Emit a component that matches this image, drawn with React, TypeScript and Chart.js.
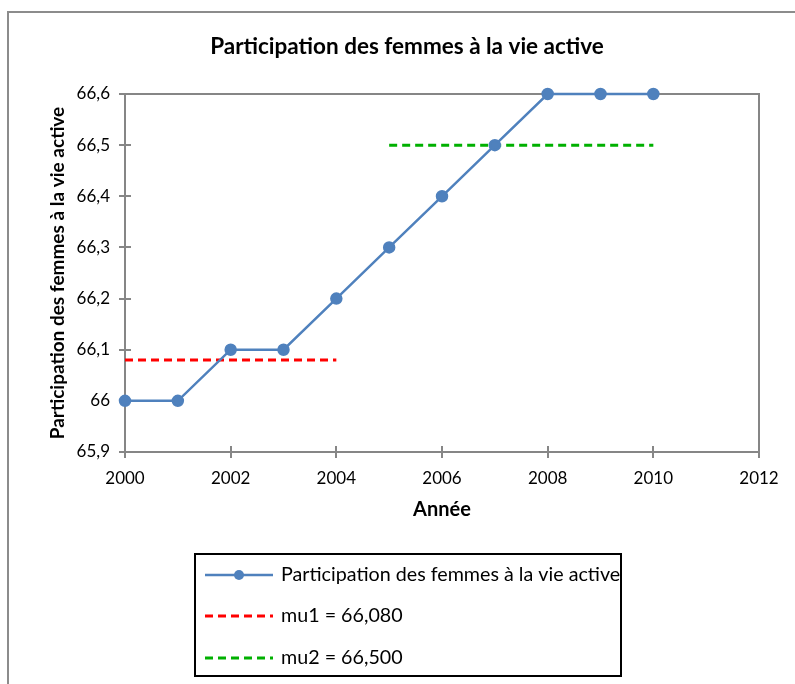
import { useEffect, useRef } from "react";
import { Chart, registerables } from "chart.js";

Chart.register(...registerables);

// ---- data ----
const years = [2000, 2001, 2002, 2003, 2004, 2005, 2006, 2007, 2008, 2009, 2010];
const participation = [66.0, 66.0, 66.1, 66.1, 66.2, 66.3, 66.4, 66.5, 66.6, 66.6, 66.6];
const mu1Years = [2000, 2004];
const mu1Value = 66.08;
const mu2Years = [2005, 2010];
const mu2Value = 66.5;
const xMin = 2000;
const xMax = 2012;
const xStep = 2;
const yMin = 65.9;
const yMax = 66.6;
const yStep = 0.1;
const chartTitle = "Participation des femmes à la vie active";
const xTitle = "Année";
const yTitle = "Participation des femmes à la vie active";
const seriesLabels = ["Participation des femmes à la vie active", "mu1 = 66,080", "mu2 = 66,500"];

const FONT = "Lato, 'Open Sans', sans-serif";
const BLUE = "#4F81BD";
const RED = "#FF0000";
const GREEN = "#00B000";
const AXIS = "#868686";

const decorPlugin = {
  id: "decor",
  beforeDraw(chart: any) {
    const ctx = chart.ctx;
    ctx.save();
    ctx.strokeStyle = "#8c8c8c";
    ctx.lineWidth = 2;
    ctx.beginPath();
    ctx.moveTo(8, chart.height);
    ctx.lineTo(8, 12);
    ctx.lineTo(chart.width, 12);
    ctx.stroke();
    ctx.restore();
  },
  beforeDatasetsDraw(chart: any) {
    const ctx = chart.ctx;
    const a = chart.chartArea;
    ctx.save();
    ctx.strokeStyle = AXIS;
    ctx.lineWidth = 2;
    ctx.strokeRect(a.left, a.top, a.right - a.left, a.bottom - a.top);
    // crossing tick marks
    const xs = chart.scales.x;
    const ys = chart.scales.y;
    ctx.beginPath();
    xs.ticks.forEach((t: any) => {
      const px = Math.round(xs.getPixelForValue(t.value));
      ctx.moveTo(px, a.bottom - 6);
      ctx.lineTo(px, a.bottom + 6);
    });
    ys.ticks.forEach((t: any) => {
      const py = Math.round(ys.getPixelForValue(t.value));
      ctx.moveTo(a.left - 6, py);
      ctx.lineTo(a.left + 6, py);
    });
    ctx.stroke();
    ctx.restore();
  },
  afterDraw(chart: any) {
    const ctx = chart.ctx;
    const bx = 195, by = 554, bw = 426, bh = 122;
    ctx.save();
    ctx.fillStyle = "#ffffff";
    ctx.fillRect(bx, by, bw, bh);
    ctx.strokeStyle = "#000000";
    ctx.lineWidth = 2;
    ctx.strokeRect(bx, by, bw, bh);
    const rows = [575, 616, 658];
    chart.data.datasets.forEach((ds: any, i: number) => {
      const y = rows[i];
      ctx.save();
      ctx.strokeStyle = ds.borderColor;
      ctx.lineWidth = ds.borderWidth;
      ctx.setLineDash(ds.borderDash || []);
      ctx.beginPath();
      ctx.moveTo(205, y);
      ctx.lineTo(273, y);
      ctx.stroke();
      ctx.setLineDash([]);
      if (ds.pointRadius > 0) {
        ctx.fillStyle = ds.pointBackgroundColor;
        ctx.beginPath();
        ctx.arc(239, y, ds.pointRadius, 0, Math.PI * 2);
        ctx.fill();
      }
      ctx.restore();
      ctx.fillStyle = "#000000";
      ctx.font = `19.7px ${FONT}`;
      ctx.textBaseline = "middle";
      ctx.textAlign = "left";
      ctx.fillText(ds.label, 281, y);
    });
    ctx.restore();
  },
};

function fmtY(v: number) {
  return (Math.round(v * 10) / 10).toString().replace(".", ",");
}

export default function App() {
  const ref = useRef<HTMLCanvasElement | null>(null);
  useEffect(() => {
    if (!ref.current) return;
    const chart = new Chart(ref.current, {
      type: "line",
      data: {
        datasets: [
          {
            label: seriesLabels[0],
            data: years.map((x, i) => ({ x, y: participation[i] })),
            borderColor: BLUE,
            backgroundColor: BLUE,
            pointBackgroundColor: BLUE,
            pointBorderColor: BLUE,
            borderWidth: 2.5,
            pointRadius: 5,
            pointHoverRadius: 5,
            tension: 0,
            clip: false,
          } as any,
          {
            label: seriesLabels[1],
            data: mu1Years.map((x) => ({ x, y: mu1Value })),
            borderColor: RED,
            backgroundColor: RED,
            borderWidth: 3,
            borderDash: [8, 5],
            pointRadius: 0,
            clip: false,
          } as any,
          {
            label: seriesLabels[2],
            data: mu2Years.map((x) => ({ x, y: mu2Value })),
            borderColor: GREEN,
            backgroundColor: GREEN,
            borderWidth: 3,
            borderDash: [8, 5],
            pointRadius: 0,
            clip: false,
          } as any,
        ],
      },
      options: {
        animation: false,
        responsive: false,
        events: [],
        layout: { padding: { left: 55, right: 36, top: 0, bottom: 152 } },
        plugins: {
          legend: { display: false },
          tooltip: { enabled: false },
          title: {
            display: true,
            text: chartTitle,
            color: "#000000",
            font: { family: FONT, size: 22.5, weight: "bold" },
            padding: { top: 33.5, bottom: 33.5 },
          },
        },
        scales: {
          x: {
            type: "linear",
            min: xMin,
            max: xMax,
            grid: { display: false, drawTicks: false, tickLength: 0 },
            border: { display: true, color: AXIS, width: 2 },
            ticks: {
              stepSize: xStep,
              padding: 16,
              color: "#000000",
              font: { family: FONT, size: 17 },
              callback: (v: any) => String(v),
            },
            title: {
              display: true,
              text: xTitle,
              color: "#000000",
              font: { family: FONT, size: 20, weight: "bold" },
              padding: { top: 0, bottom: 10 },
            },
            afterFit: (s: any) => {
              s.height = 80;
            },
          },
          y: {
            type: "linear",
            min: yMin,
            max: yMax,
            grid: { display: false, drawTicks: false, tickLength: 0 },
            border: { display: true, color: AXIS, width: 2 },
            ticks: {
              stepSize: yStep,
              padding: 15,
              color: "#000000",
              font: { family: FONT, size: 17 },
              callback: (v: any) => fmtY(Number(v)),
            },
            title: {
              display: true,
              text: yTitle,
              color: "#000000",
              font: { family: FONT, size: 19, weight: "bold" },
              padding: { top: -8.4, bottom: 0 },
            },
            afterFit: (s: any) => {
              s.width = 70;
            },
          },
        },
      } as any,
      plugins: [decorPlugin],
    });
    return () => chart.destroy();
  }, []);
  return (
    <div style={{ position: "absolute", left: 0, top: 0, width: 795, height: 684, background: "#fff" }}>
      <canvas ref={ref} width={795} height={684} style={{ display: "block" }} />
    </div>
  );
}
